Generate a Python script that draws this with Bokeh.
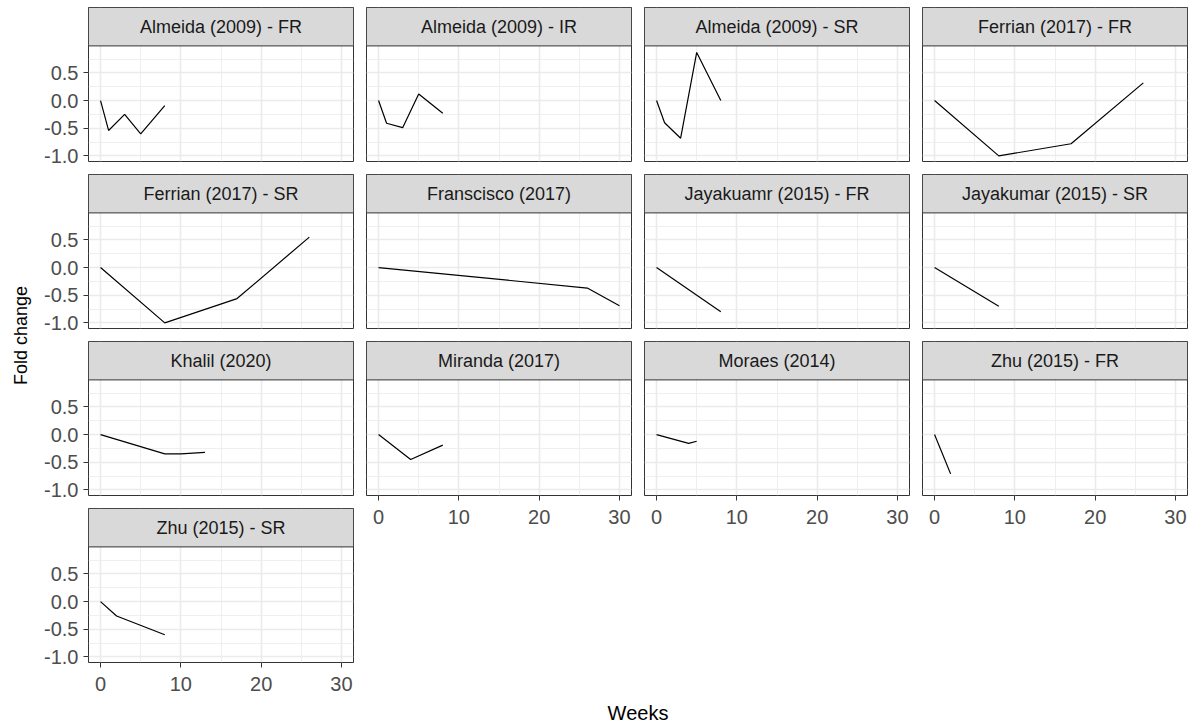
import math
from bokeh.plotting import figure
from bokeh.layouts import row, column
from bokeh.models import Range1d, FixedTicker, BoxAnnotation, Label, NumeralTickFormatter
from bokeh.embed import file_html
from bokeh.resources import INLINE

# ---- data ----
panel_titles = ["Almeida (2009) - FR", "Almeida (2009) - IR", "Almeida (2009) - SR", "Ferrian (2017) - FR",
                "Ferrian (2017) - SR", "Franscisco (2017)", "Jayakuamr (2015) - FR", "Jayakumar (2015) - SR",
                "Khalil (2020)", "Miranda (2017)", "Moraes (2014)", "Zhu (2015) - FR",
                "Zhu (2015) - SR"]

almeida_fr_weeks = [0, 1, 3, 5, 8]
almeida_fr_fold = [0.0, -0.54, -0.25, -0.60, -0.09]
almeida_ir_weeks = [0, 1, 3, 5, 8]
almeida_ir_fold = [0.0, -0.41, -0.49, 0.12, -0.23]
almeida_sr_weeks = [0, 1, 3, 5, 8]
almeida_sr_fold = [0.0, -0.40, -0.68, 0.87, 0.0]
ferrian_fr_weeks = [0, 8, 17, 26]
ferrian_fr_fold = [0.0, -1.0, -0.78, 0.32]
ferrian_sr_weeks = [0, 8, 17, 26]
ferrian_sr_fold = [0.0, -1.0, -0.56, 0.55]
franscisco_weeks = [0, 26, 30]
franscisco_fold = [0.0, -0.37, -0.69]
jayakuamr_fr_weeks = [0, 8]
jayakuamr_fr_fold = [0.0, -0.80]
jayakumar_sr_weeks = [0, 8]
jayakumar_sr_fold = [0.0, -0.70]
khalil_weeks = [0, 8, 10, 13]
khalil_fold = [0.0, -0.35, -0.35, -0.32]
miranda_weeks = [0, 4, 8]
miranda_fold = [0.0, -0.45, -0.19]
moraes_weeks = [0, 4, 5]
moraes_fold = [0.0, -0.16, -0.12]
zhu_fr_weeks = [0, 2]
zhu_fr_fold = [0.0, -0.71]
zhu_sr_weeks = [0, 2, 8]
zhu_sr_fold = [0.0, -0.26, -0.60]

series_weeks = [almeida_fr_weeks, almeida_ir_weeks, almeida_sr_weeks, ferrian_fr_weeks,
                ferrian_sr_weeks, franscisco_weeks, jayakuamr_fr_weeks, jayakumar_sr_weeks,
                khalil_weeks, miranda_weeks, moraes_weeks, zhu_fr_weeks, zhu_sr_weeks]
series_fold = [almeida_fr_fold, almeida_ir_fold, almeida_sr_fold, ferrian_fr_fold,
               ferrian_sr_fold, franscisco_fold, jayakuamr_fr_fold, jayakumar_sr_fold,
               khalil_fold, miranda_fold, moraes_fold, zhu_fr_fold, zhu_sr_fold]

x_ticks = [0, 10, 20, 30]
x_minor = [5, 15, 25]
y_ticks = [-1.0, -0.5, 0.0, 0.5]
y_minor = [-0.75, -0.25, 0.25, 0.75]

x_title = "Weeks"
y_title = "Fold change"

# ---- layout constants ----
X_LO, X_HI = -1.5, 31.5
Y_LO, Y_TOP = -1.101, 0.988      # panel data range
STRIP_UNITS = 0.694               # strip height in data units
Y_MAX = Y_TOP + STRIP_UNITS
FRAME_W = 265
FRAME_H = 154
TOP_PAD = 7
GAP = 13
AX_B = 42
Y_FIG_W = 38
LEFT_B = 50
FONT = "Liberation Sans"
GRID = "#EBEBEB"
DARK = "#333333"


def make_panel(i, col, first_row, show_x, show_y):
    left = LEFT_B if col == 0 else 1
    right = 12 if col < 3 else 1
    bottom = AX_B if show_x else GAP
    top = TOP_PAD if first_row else 0
    p = figure(width=left + FRAME_W + right, height=top + FRAME_H + bottom,
               x_range=Range1d(X_LO, X_HI), y_range=Range1d(Y_LO, Y_MAX),
               output_backend="svg", toolbar_location=None,
               min_border_left=left, min_border_right=right,
               min_border_top=top, min_border_bottom=bottom,
               outline_line_color=DARK, outline_line_width=1,
               background_fill_color="white", border_fill_color="white")
    p.xaxis.ticker = FixedTicker(ticks=x_ticks, minor_ticks=x_minor)
    p.yaxis.ticker = FixedTicker(ticks=y_ticks, minor_ticks=y_minor)
    p.xgrid.ticker = FixedTicker(ticks=x_ticks, minor_ticks=x_minor)
    p.ygrid.ticker = FixedTicker(ticks=y_ticks, minor_ticks=y_minor)
    for g in (p.xgrid, p.ygrid):
        g.grid_line_color = GRID
        g.grid_line_width = 1.6
        g.minor_grid_line_color = GRID
        g.minor_grid_line_width = 0.8
    p.yaxis.formatter = NumeralTickFormatter(format="0.0")
    for ax in (p.xaxis, p.yaxis):
        ax.axis_line_color = None
        ax.major_tick_line_color = DARK
        ax.major_tick_line_width = 1
        ax.major_tick_out = 5
        ax.major_tick_in = 0
        ax.minor_tick_line_color = None
        ax.major_label_text_font = FONT
        ax.major_label_text_font_size = "20px"
        ax.major_label_text_color = "#4D4D4D"
    p.xaxis.major_label_standoff = 9
    p.yaxis.major_label_standoff = 5
    p.xaxis.visible = show_x
    p.yaxis.visible = show_y

    p.line(x=series_weeks[i], y=series_fold[i], line_color="black", line_width=1.2)

    strip = BoxAnnotation(left=X_LO, right=X_HI, bottom=Y_TOP, top=Y_MAX,
                          fill_color="#D9D9D9", fill_alpha=1.0,
                          line_color=DARK, line_alpha=1.0, line_width=1)
    p.add_layout(strip)
    lab = Label(x=(X_LO + X_HI) / 2, y=(Y_TOP + Y_MAX) / 2, text=panel_titles[i],
                text_align="center", text_baseline="middle",
                text_font=FONT, text_font_size="18px", text_color="#1A1A1A")
    p.add_layout(lab)
    return p


panels = []
for i in range(len(panel_titles)):
    r, c = divmod(i, 4)
    show_x = (r == 3) or (r == 2 and c > 0)
    show_y = (c == 0)
    panels.append(make_panel(i, c, r == 0, show_x, show_y))

col1 = column(panels[0], panels[4], panels[8], panels[12], spacing=0)
col2 = column(panels[1], panels[5], panels[9], spacing=0)
col3 = column(panels[2], panels[6], panels[10], spacing=0)
col4 = column(panels[3], panels[7], panels[11], spacing=0)


def blank_fig(w, h):
    f = figure(width=w, height=h, x_range=Range1d(0, w), y_range=Range1d(0, h),
               output_backend="svg", toolbar_location=None, min_border=0,
               outline_line_color=None, background_fill_color="white", border_fill_color="white")
    f.axis.visible = False
    f.grid.visible = False
    return f


# y axis title (figure coordinates equal pixels, origin bottom-left)
Y_FIG_H = 680
yfig = blank_fig(Y_FIG_W, Y_FIG_H)
yfig.add_layout(Label(x=20, y=Y_FIG_H - 335, text=y_title, angle=math.pi / 2,
                      text_align="center", text_baseline="middle",
                      text_font=FONT, text_font_size="18px", text_color="black"))

# x axis title, placed under columns 2-4
cols_h = TOP_PAD + 2 * (FRAME_H + GAP) + FRAME_H + AX_B
X_FIG_H = 724 - cols_h
x_start = Y_FIG_W + LEFT_B + FRAME_W + 12
xfig = blank_fig(3 * 278, X_FIG_H)
xfig.add_layout(Label(x=637.5 - x_start, y=X_FIG_H - (712 - cols_h), text=x_title,
                      text_align="center", text_baseline="middle",
                      text_font=FONT, text_font_size="20px", text_color="black"))

layout = row(yfig, col1, column(row(col2, col3, col4, spacing=0), xfig, spacing=0), spacing=0)

open("out.html", "w").write(file_html(layout, INLINE))
